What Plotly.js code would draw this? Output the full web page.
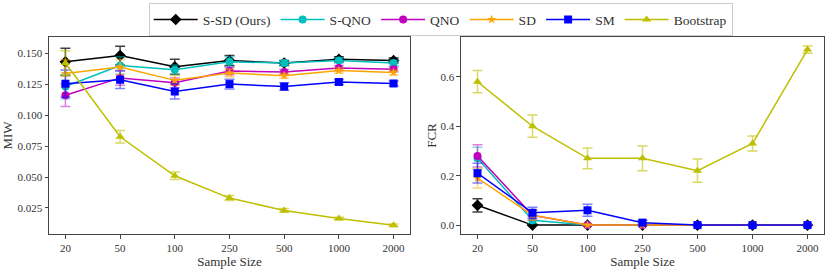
<!DOCTYPE html>
<html><head><meta charset="utf-8">
<script src="https://cdn.plot.ly/plotly-3.0.1.min.js"></script>
<style>html,body{margin:0;padding:0;background:#fff;}</style>
</head><body><div id="chart" style="width:830px;height:269px;"></div>
<script>
const sampleSizes = ["20","50","100","250","500","1000","2000"];
const methods = ["S-SD (Ours)","S-QNO","QNO","SD","SM","Bootstrap"];

const miw_ssd = [0.143,0.148,0.139,0.144,0.142,0.145,0.144];
const miw_sqno = [0.123,0.140,0.1365,0.143,0.142,0.144,0.142];
const miw_qno = [0.116,0.130,0.126,0.1355,0.1347,0.138,0.137];
const miw_sd = [0.1336,0.1388,0.128,0.134,0.1318,0.136,0.1344];
const miw_sm = [0.1253,0.1285,0.119,0.125,0.123,0.1267,0.1255];
const miw_boot = [0.142,0.0825,0.051,0.033,0.023,0.0166,0.011];

const miwErr_ssd = [0.011,0.0075,0.006,0.004,0.002,0.002,0.002];
const miwErr_sqno = [0.010,0.007,0.004,0.004,0.002,0.002,0.002];
const miwErr_qno = [0.009,0.006,0.004,0.003,0.002,0.002,0.002];
const miwErr_sd = [0.011,0.006,0.004,0.003,0.002,0.002,0.002];
const miwErr_sm = [0.011,0.007,0.006,0.004,0.003,0.002,0.002];
const miwErr_boot = [0.010,0.005,0.003,0.002,0.0015,0.001,0.001];

const fcr_ssd = [0.08,0,0,0,0,0,0];
const fcr_sqno = [0.27,0.02,0,0,0,0,0];
const fcr_qno = [0.28,0.04,0,0,0,0,0];
const fcr_sd = [0.19,0.04,0,0,0,0,0];
const fcr_sm = [0.21,0.05,0.06,0.01,0,0,0];
const fcr_boot = [0.58,0.40,0.27,0.27,0.22,0.33,0.71];

const fcrErr_ssd = [0.027,0,0,0,0,0,0];
const fcrErr_sqno = [0.045,0.014,0,0,0,0,0];
const fcrErr_qno = [0.045,0.02,0,0,0,0,0];
const fcrErr_sd = [0.04,0.02,0,0,0,0,0];
const fcrErr_sm = [0.04,0.022,0.024,0.01,0,0,0];
const fcrErr_boot = [0.045,0.045,0.042,0.05,0.047,0.03,0.015];

const colors = ["#000000","#00bfbf","#bf00bf","#ffa500","#0000ff","#bfbf00"];
const errColors = ["rgba(0,0,0,0.75)","rgba(0,191,191,0.5)","rgba(191,0,191,0.5)","rgba(255,165,0,0.5)","rgba(0,0,255,0.5)","rgba(191,191,0,0.6)"];
const symbols = ["diamond","circle","circle","star","square","triangle-up"];
const sizes = [9,8,8,7,8,8];

const miwVals = [miw_ssd,miw_sqno,miw_qno,miw_sd,miw_sm,miw_boot];
const miwErrs = [miwErr_ssd,miwErr_sqno,miwErr_qno,miwErr_sd,miwErr_sm,miwErr_boot];
const fcrVals = [fcr_ssd,fcr_sqno,fcr_qno,fcr_sd,fcr_sm,fcr_boot];
const fcrErrs = [fcrErr_ssd,fcrErr_sqno,fcrErr_qno,fcrErr_sd,fcrErr_sm,fcrErr_boot];

const traces = [];
methods.forEach((m,i)=>{
  traces.push({x:sampleSizes,y:miwVals[i],type:'scatter',mode:'lines+markers',name:m,legendgroup:m,
    line:{color:colors[i],width:1.5},marker:{color:colors[i],symbol:symbols[i],size:sizes[i]},
    error_y:{type:'data',array:miwErrs[i],visible:true,color:errColors[i],thickness:1.5,width:5},
    xaxis:'x',yaxis:'y'});
});
methods.forEach((m,i)=>{
  traces.push({x:sampleSizes,y:fcrVals[i],type:'scatter',mode:'lines+markers',name:m,legendgroup:m,showlegend:false,
    line:{color:colors[i],width:1.5},marker:{color:colors[i],symbol:symbols[i],size:sizes[i]},
    error_y:{type:'data',array:fcrErrs[i],visible:true,color:errColors[i],thickness:1.5,width:5},
    xaxis:'x2',yaxis:'y2'});
});

const fontFam = "Liberation Serif";
function ax(extra){
  return Object.assign({showline:true,mirror:true,linecolor:'#444',linewidth:1,ticks:'outside',ticklen:3.5,tickcolor:'#444',
    showgrid:false,zeroline:false,automargin:false,tickfont:{family:fontFam,size:11,color:'#333'}},extra);
}
function tt(text,standoff){
  return {text:text,font:{family:fontFam,size:13,color:'#333'},standoff:standoff};
}

const layout = {
  width:830,height:269,paper_bgcolor:'#fff',plot_bgcolor:'#fff',
  margin:{l:49,r:6,t:37,b:35,autoexpand:false},
  font:{family:fontFam,color:'#333',size:11},
  showlegend:true,
  legend:{orientation:'h',xref:'container',x:0.531,xanchor:'center',yref:'container',y:0.988,yanchor:'top',
    bordercolor:'#cccccc',borderwidth:1,font:{family:fontFam,size:13.5,color:'#333'},itemwidth:44,tracegroupgap:0},
  xaxis:ax({domain:[0,0.4658],type:'category',range:[-0.3,6.3],title:tt('Sample Size',0)}),
  yaxis:ax({range:[0.004,0.163],tick0:0,dtick:0.025,tickformat:'.3f',title:tt('MIW',6)}),
  xaxis2:ax({domain:[0.5316,1],type:'category',range:[-0.3,6.3],anchor:'y2',title:tt('Sample Size',0)}),
  yaxis2:ax({range:[-0.036,0.761],tick0:0,dtick:0.2,tickformat:'.1f',anchor:'x2',title:tt('FCR',0)})
};
Plotly.newPlot('chart',traces,layout,{displayModeBar:false,staticPlot:true});
</script></body></html>
